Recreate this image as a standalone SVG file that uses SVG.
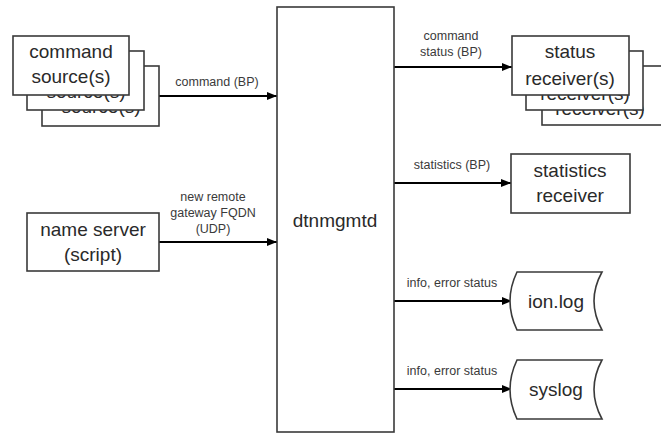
<svg xmlns="http://www.w3.org/2000/svg" width="661" height="436" viewBox="0 0 661 436">
<style>
.box{fill:#fff;stroke:#3a3a3a;stroke-width:1.6}
.big{font-family:"Liberation Sans",Arial,sans-serif;font-size:19px;fill:#2a2a2a;text-anchor:middle}
.lbl{font-family:"Liberation Sans",Arial,sans-serif;font-size:12.5px;fill:#3a3a3a;text-anchor:middle}
.conn{stroke:#000;stroke-width:2;fill:none;marker-end:url(#ah)}
</style>
<defs>
<marker id="ah" viewBox="0 0 10 8" refX="10" refY="4" markerWidth="10" markerHeight="8" markerUnits="userSpaceOnUse" orient="auto">
<path d="M0,0 L10,4 L0,8 Z" fill="#000"/>
</marker>
</defs>
<rect width="661" height="436" fill="#fff"/>

<g id="connectors">
<line class="conn" x1="159" y1="96" x2="277" y2="96"/>
<line class="conn" x1="159" y1="242" x2="277" y2="242"/>
<line class="conn" x1="394" y1="67" x2="512" y2="67"/>
<line class="conn" x1="394" y1="183" x2="511" y2="183"/>
<line class="conn" x1="394" y1="301" x2="512" y2="301"/>
<line class="conn" x1="394" y1="389" x2="512" y2="389"/>
<text class="lbl" x="217" y="86">command (BP)</text>
<text class="lbl" x="213" y="201">new remote</text>
<text class="lbl" x="213" y="217">gateway FQDN</text>
<text class="lbl" x="213" y="233">(UDP)</text>
<text class="lbl" x="451" y="40">command</text>
<text class="lbl" x="451" y="56">status (BP)</text>
<text class="lbl" x="452" y="169">statistics (BP)</text>
<text class="lbl" x="452" y="287">info, error status</text>
<text class="lbl" x="452" y="375">info, error status</text>
</g>

<g id="dtnmgmtd">
<rect class="box" x="277" y="7" width="117" height="425"/>
<text class="big" x="335" y="227">dtnmgmtd</text>
</g>

<g id="command-sources">
<rect class="box" x="42" y="66" width="117" height="60"/>
<text class="big" x="101" y="113">source(s)</text>
<rect class="box" x="27" y="51" width="117" height="59"/>
<text class="big" x="86" y="98">source(s)</text>
<rect class="box" x="13" y="36" width="116" height="59"/>
<text class="big" x="71" y="58">command</text>
<text class="big" x="71" y="83">source(s)</text>
</g>

<g id="name-server">
<rect class="box" x="27" y="213" width="132" height="58"/>
<text class="big" x="93" y="236">name server</text>
<text class="big" x="93" y="261">(script)</text>
</g>

<g id="status-receivers">
<rect class="box" x="542" y="66" width="125" height="59"/>
<text class="big" x="600" y="115">receiver(s)</text>
<rect class="box" x="526" y="51" width="117" height="59"/>
<text class="big" x="585" y="100">receiver(s)</text>
<rect class="box" x="512" y="36" width="117" height="59"/>
<text class="big" x="570" y="58">status</text>
<text class="big" x="570" y="85">receiver(s)</text>
</g>

<g id="statistics-receiver">
<rect class="box" x="511" y="154" width="119" height="59"/>
<text class="big" x="570" y="177">statistics</text>
<text class="big" x="570" y="202">receiver</text>
</g>

<g id="ion-log">
<path class="box" d="M517,272 L602,272 Q586,301 602,330 L517,330 Q503,301 517,272 Z"/>
<text class="big" x="556" y="308">ion.log</text>
</g>

<g id="syslog">
<path class="box" d="M517,360 L602,360 Q586,389.5 602,419 L517,419 Q503,389.5 517,360 Z"/>
<text class="big" x="556" y="396">syslog</text>
</g>
</svg>
